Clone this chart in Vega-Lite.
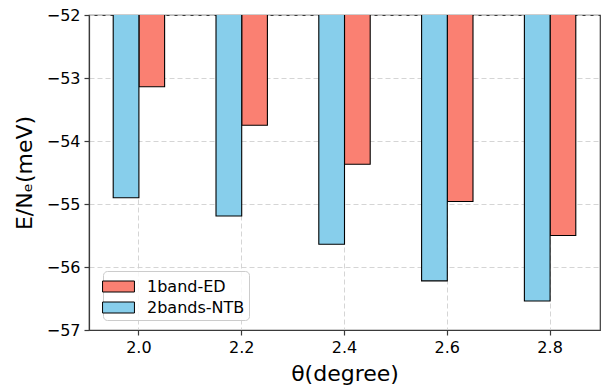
{
  "$schema": "https://vega.github.io/schema/vega-lite/v6.json",
  "width": 511,
  "height": 315,
  "autosize": {"type": "none"},
  "padding": {"left": 89, "top": 15, "right": 5, "bottom": 58},
  "background": "white",
  "config": {
    "font": "DejaVu Sans",
    "view": {"stroke": "#3a3a3a", "strokeWidth": 1.2},
    "axis": {
      "labelFont": "DejaVu Sans",
      "labelFontSize": 16,
      "labelColor": "black",
      "titleFont": "DejaVu Sans",
      "titleFontSize": 22,
      "titleFontWeight": "normal",
      "titleColor": "black",
      "tickColor": "#3a3a3a",
      "tickSize": 5,
      "tickWidth": 1.2,
      "domainColor": "#3a3a3a",
      "domainWidth": 1.2,
      "labelPadding": 4,
      "grid": true,
      "gridColor": "#d0d0d0",
      "gridDash": [5, 3],
      "gridWidth": 0.9
    }
  },
  "data": {
    "values": [
      {"theta": "2.0", "series": "1band-ED", "E": -53.14},
      {"theta": "2.2", "series": "1band-ED", "E": -53.75},
      {"theta": "2.4", "series": "1band-ED", "E": -54.37},
      {"theta": "2.6", "series": "1band-ED", "E": -54.96},
      {"theta": "2.8", "series": "1band-ED", "E": -55.50},
      {"theta": "2.0", "series": "2bands-NTB", "E": -54.90},
      {"theta": "2.2", "series": "2bands-NTB", "E": -55.19},
      {"theta": "2.4", "series": "2bands-NTB", "E": -55.64},
      {"theta": "2.6", "series": "2bands-NTB", "E": -56.22},
      {"theta": "2.8", "series": "2bands-NTB", "E": -56.54}
    ]
  },
  "mark": {"type": "bar", "stroke": "black", "strokeWidth": 1.1, "clip": true},
  "encoding": {
    "x": {
      "field": "theta",
      "type": "ordinal",
      "scale": {"paddingInner": 0.5, "paddingOuter": 0.2355},
      "axis": {"title": "θ(degree)", "labelAngle": 0, "bandPosition": 0.5, "titlePadding": 8}
    },
    "xOffset": {
      "field": "series",
      "type": "nominal",
      "sort": ["2bands-NTB", "1band-ED"],
      "scale": {"paddingInner": 0, "paddingOuter": 0}
    },
    "y": {
      "field": "E",
      "type": "quantitative",
      "scale": {"domain": [-57, -52], "nice": false, "zero": false},
      "axis": {"values": [-57, -56, -55, -54, -53, -52], "title": "E/Nₑ(meV)", "titlePadding": 10}
    },
    "y2": {"datum": 0},
    "color": {
      "field": "series",
      "type": "nominal",
      "scale": {"domain": ["1band-ED", "2bands-NTB"], "range": ["#FA8072", "#87CEEB"]},
      "legend": {
        "title": null,
        "orient": "none",
        "legendX": 14,
        "legendY": 256,
        "strokeColor": "#cccccc",
        "fillColor": "rgba(255,255,255,0.8)",
        "cornerRadius": 4,
        "padding": 4,
        "labelFont": "DejaVu Sans",
        "labelFontSize": 16,
        "labelColor": "black",
        "symbolType": "M-1.45,-0.5H1.45V0.5H-1.45Z",
        "symbolSize": 484,
        "symbolStrokeColor": "black",
        "symbolStrokeWidth": 1,
        "symbolOpacity": 1,
        "rowPadding": 1,
        "labelOffset": 17
      }
    }
  }
}
